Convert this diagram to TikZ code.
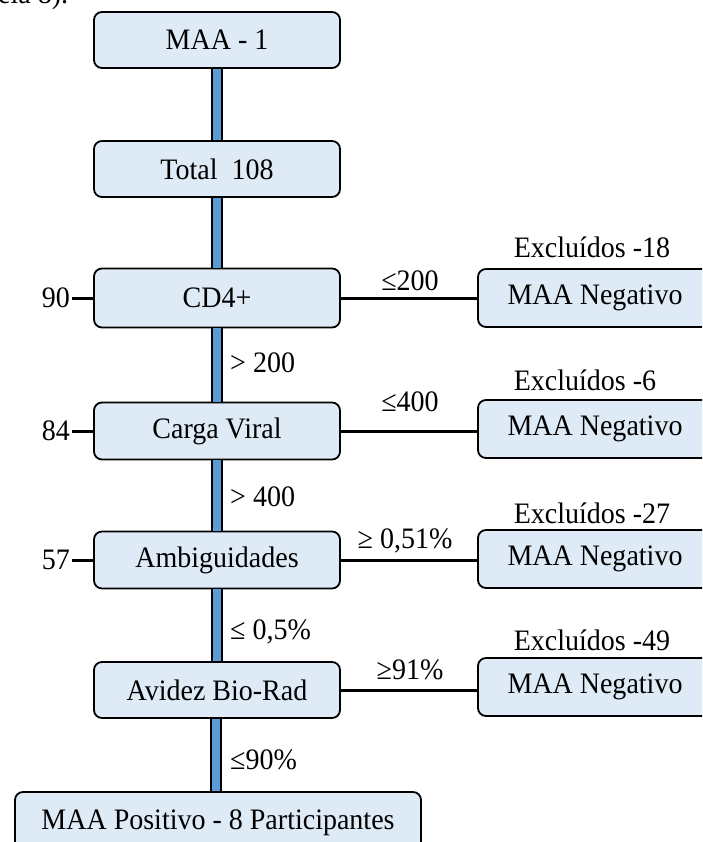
\documentclass[tikz,border=0pt]{standalone}
\usepackage{fontspec}
\setmainfont{Liberation Serif}[FakeStretch=0.943]
\definecolor{boxfill}{RGB}{222,235,247}
\definecolor{barblue}{RGB}{91,155,213}
\tikzset{
  every node/.style={font=\fontsize{29.7}{34}\selectfont, text=black},
  mainbox/.style={draw=black, line width=1.8pt, rounded corners=8pt, fill=boxfill,
     minimum width=246pt, minimum height=57pt, inner sep=0pt},
  negbox/.style={draw=black, line width=1.8pt, rounded corners=8pt, fill=boxfill,
     minimum width=234pt, minimum height=58pt, inner sep=0pt},
  posbox/.style={draw=black, line width=1.8pt, rounded corners=8pt, fill=boxfill,
     minimum width=406pt, minimum height=62pt, inner sep=0pt},
  bar/.style={draw=black, line width=1.4pt, double=barblue, double distance=8.3pt},
  link/.style={draw=black, line width=3pt},
  lbl/.style={inner sep=1pt},
}
\begin{document}
\begin{tikzpicture}[x=1pt,y=-1pt]
\useasboundingbox (0,0) rectangle (702,842);
\clip (0,0) rectangle (702,842);
% clipped text fragment at the top
\node[anchor=base west, inner sep=0pt] (frag) at (-2,4) {ela 8).};
% main column
\node[mainbox, minimum height=56pt] (m1) at (217,40) {MAA - 1};
\node[mainbox, minimum height=56pt] (tot) at (217,169) {Total\ \ 108};
\node[mainbox, minimum height=59pt] (cd4) at (217,298) {CD4+};
\node[mainbox] (cv) at (217,431) {Carga Viral};
\node[mainbox] (amb) at (217,560) {Ambiguidades};
\node[mainbox, minimum height=56pt] (av) at (217,690) {Avidez Bio-Rad};
\node[posbox] (pos) at (218,823) {MAA Positivo - 8 Participantes};
% negative boxes
\node[negbox] (n1) at (595,298) {MAA Negativo};
\node[negbox] (n2) at (595,429) {MAA Negativo};
\node[negbox] (n3) at (595,559) {MAA Negativo};
\node[negbox] (n4) at (595,687) {MAA Negativo};
% excluded labels
\node[lbl] (e1) at (592,247) {Excluídos -18};
\node[lbl] (e2) at (585,380) {Excluídos -6};
\node[lbl] (e3) at (592,513) {Excluídos -27};
\node[lbl] (e4) at (592,640) {Excluídos -49};
% blue bars
\draw[bar] (m1.south) -- (tot.north);
\draw[bar] (tot.south) -- (cd4.north);
\draw[bar] (cd4.south) -- (cv.north);
\draw[bar] (cv.south) -- (amb.north);
\draw[bar] (amb.south) -- (av.north);
\draw[bar] ([xshift=-1pt]av.south) -- ([xshift=-1pt]av.south |- pos.north);
% horizontal links
\draw[link] (cd4.east) -- (n1.west |- cd4.east);
\draw[link] (cv.east) -- (n2.west |- cv.east);
\draw[link] (amb.east) -- (n3.west |- amb.east);
\draw[link] (av.east) -- (n4.west |- av.east);
% left counts
\node[anchor=east, inner sep=2pt] (c90) at (72,298) {90};
\node[anchor=east, inner sep=2pt] (c84) at (72,431) {84};
\node[anchor=east, inner sep=2pt] (c57) at (72,560) {57};
\draw[link] (c90.east) -- (cd4.west);
\draw[link] (c84.east) -- (cv.west);
\draw[link] (c57.east) -- (amb.west);
% horizontal condition labels
\node[lbl] (h1) at (410,281) {≤200};
\node[lbl] (h2) at (410,402) {≤400};
\node[lbl] (h3) at (405,541) {≥ 0,51\%};
\node[lbl] (h4) at (410,670) {≥91\%};
% vertical condition labels
\node[lbl, anchor=west] (v1) at (229,363) {> 200};
\node[lbl, anchor=west] (v2) at (229,497) {> 400};
\node[lbl, anchor=west] (v3) at (229,632) {≤ 0,5\%};
\node[lbl, anchor=west] (v4) at (229,760) {≤90\%};
\end{tikzpicture}
\end{document}
